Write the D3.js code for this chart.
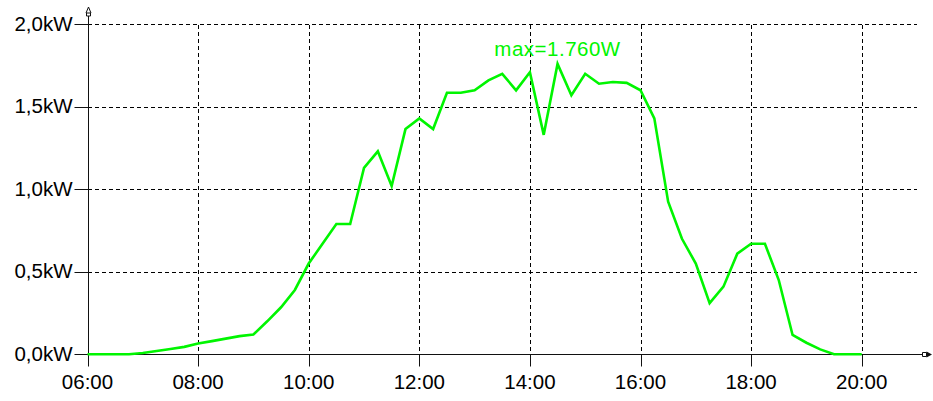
<!DOCTYPE html>
<html>
<head>
<meta charset="utf-8">
<script src="https://cdn.jsdelivr.net/npm/d3@7"></script>
<style>
  body { margin: 0; background: #fff; }
  svg { display: block; }
  text { font-family: "Liberation Sans", Arial, sans-serif; }
</style>
</head>
<body>
<div id="chart"></div>
<script>
// power readings, every 15 minutes
const times = ["06:00","06:15","06:30","06:45","07:00","07:15","07:30","07:45",
    "08:00","08:15","08:30","08:45","09:00","09:15","09:30","09:45",
    "10:00","10:15","10:30","10:45","11:00","11:15","11:30","11:45",
    "12:00","12:15","12:30","12:45","13:00","13:15","13:30","13:45",
    "14:00","14:15","14:30","14:45","15:00","15:15","15:30","15:45",
    "16:00","16:15","16:30","16:45","17:00","17:15","17:30","17:45",
    "18:00","18:15","18:30","18:45","19:00","19:15","19:30","19:45","20:00"];
const power_kw = [0, 0, 0, 0, 0.008, 0.02, 0.032, 0.045,
    0.065, 0.08, 0.095, 0.11, 0.12, 0.2, 0.285, 0.39,
    0.55, 0.67, 0.79, 0.79, 1.13, 1.23, 1.02, 1.365,
    1.43, 1.365, 1.585, 1.585, 1.60, 1.66, 1.70, 1.60,
    1.71, 1.33, 1.76, 1.57, 1.70, 1.64, 1.65, 1.645,
    1.60, 1.43, 0.925, 0.70, 0.55, 0.31, 0.41, 0.61,
    0.67, 0.67, 0.45, 0.117, 0.07, 0.03, 0, 0, 0];
const x_ticks = ["06:00","08:00","10:00","12:00","14:00","16:00","18:00","20:00"];
const y_ticks = [0, 0.5, 1.0, 1.5, 2.0];

function drawChart() {
    const div_id = "#chart";
    const win_width = 933, win_height = 401;

    const parseTime = d3.timeParse("%H:%M");
    const de = d3.formatLocale({decimal: ",", thousands: ".", grouping: [3], currency: ["", ""]});
    const fmtKw = de.format(".1f");
    const fmtW = de.format(",d");

    const data = times.map((t, i) => ({t: parseTime(t), v: power_kw[i]}));

    let svg = d3.select(div_id)
        .append("svg")
        .attr("width", win_width)
        .attr("height", win_height);

    // scales (06:00 at x=87.5, 20:00 at x=861.7)
    const x = d3.scaleTime()
        .domain([parseTime("06:00"), parseTime("20:00")])
        .range([87.5, 861.7]);
    const y = d3.scaleLinear()
        .domain([0, 2])
        .range([354.3, 24.3]);
    const px = v => Math.round(v) + 0.5;

    const left = 88, right = 917, top = 25, bottom = 354;

    // grid
    let grid = svg.append("g");
    grid.selectAll("line.h")
        .data(y_ticks.filter(d => d > 0))
        .enter().append("line")
        .attr("x1", left).attr("x2", right)
        .attr("y1", d => px(y(d))).attr("y2", d => px(y(d)))
        .style("stroke", "#000")
        .style("stroke-dasharray", "4,3");
    grid.selectAll("line.v")
        .data(x_ticks.slice(1))
        .enter().append("line")
        .attr("x1", d => px(x(parseTime(d)))).attr("x2", d => px(x(parseTime(d))))
        .attr("y1", top).attr("y2", bottom)
        .style("stroke", "#000")
        .style("stroke-dasharray", "4,3");

    // axes
    let yAxis = svg.append("g")
        .attr("transform", "translate(" + (left + 0.5) + ",0)")
        .call(d3.axisLeft(y).tickValues(y_ticks).tickSize(14).tickPadding(2)
            .tickFormat(d => fmtKw(d) + "kW")
            .offset(0));
    yAxis.select(".domain").remove();
    yAxis.selectAll(".tick line").attr("transform", d => "translate(0," + (px(y(d)) - y(d)) + ")").style("stroke", "#111");
    yAxis.selectAll("text").style("font-size", "20.5px").style("fill", "#000");

    let xAxis = svg.append("g")
        .attr("transform", "translate(0," + (bottom + 0.5) + ")")
        .call(d3.axisBottom(x).tickValues(x_ticks.map(parseTime)).tickSize(12).tickPadding(8)
            .tickFormat(d3.timeFormat("%H:%M"))
            .offset(0));
    xAxis.select(".domain").remove();
    xAxis.selectAll(".tick line").attr("transform", d => "translate(" + (px(x(d)) - x(d)) + ",0)").style("stroke", "#111");
    xAxis.selectAll("text").style("font-size", "20.5px").style("fill", "#000");

    // axis lines with arrows
    svg.append("line")
        .attr("x1", left + 0.5).attr("x2", left + 0.5)
        .attr("y1", 12).attr("y2", bottom)
        .style("stroke", "#111");
    svg.append("path")
        .attr("d", "M88.5,7 L86,13 L91,13 Z M86.5,13 L86.5,16 L90.5,16 L90.5,13")
        .attr("fill", "#fff").style("stroke", "#111");
    svg.append("line")
        .attr("x1", left).attr("x2", 924)
        .attr("y1", bottom + 0.5).attr("y2", bottom + 0.5)
        .style("stroke", "#111");
    svg.append("path")
        .attr("d", "M922.5,352.5 L926.5,352.5 L926.5,356.5 L922.5,356.5 Z")
        .attr("fill", "#fff").style("stroke", "#111");
    svg.append("path")
        .attr("d", "M926.5,351.5 L932,354.5 L926.5,357.5 Z")
        .attr("fill", "#111");

    // power line
    const line = d3.line()
        .x(d => x(d.t))
        .y(d => y(d.v));
    svg.append("path")
        .datum(data)
        .attr("d", line)
        .attr("fill", "none")
        .style("stroke", "#00f500")
        .style("stroke-width", 2.6)
        .style("stroke-linejoin", "miter");

    // max label
    const maxD = data.reduce((a, b) => b.v > a.v ? b : a);
    svg.append("text")
        .attr("x", x(maxD.t))
        .attr("y", y(maxD.v) - 8)
        .attr("text-anchor", "middle")
        .style("font-size", "20.5px")
        .style("letter-spacing", "0.5px")
        .style("fill", "#00f500")
        .text("max=" + fmtW(Math.round(maxD.v * 1000)) + "W");
}
drawChart();
</script>
</body>
</html>
